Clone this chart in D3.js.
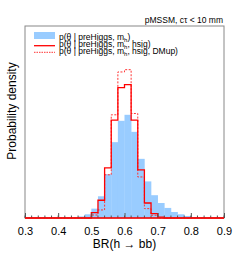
<!DOCTYPE html>
<html>
  <head>
    <meta charset="utf-8">
    <title>BR(h to bb)</title>
    <script src="https://d3js.org/d3.v7.min.js"></script>
    <style>
      body { margin: 0; background: #fff; }
      text { font-family: "Liberation Sans", Arial, sans-serif; fill: #000; }
    </style>
  </head>
  <body>
    <svg id="chart" width="249" height="257"></svg>
    <script>
      // data: bin width 0.02, first bin left edge + densities
      var binWidth = 0.02;
      var blueStart = 0.44;
      var blueDensity = [0.04, 0.13, 0.31, 0.78, 1.81, 3.65, 6.32, 8.10, 8.60, 7.18,
                         4.93, 3.05, 1.90, 1.25, 0.84, 0.50, 0.31, 0.17, 0.08, 0.04];
      var hsigStart = 0.50;
      var hsigDensity = [0.44, 1.48, 4.18, 8.16, 10.86, 11.11, 8.16, 4.01, 1.25, 0.36, 0.08];
      var dmupStart = 0.50;
      var dmupDensity = [0.25, 0.67, 3.60, 8.60, 12.17, 12.36, 8.71, 3.42, 0.78, 0.23, 0];
      var xTicks = [0.3, 0.4, 0.5, 0.6, 0.7, 0.8, 0.9];

      var svg = d3.select("#chart");
      var margin = { top: 26, right: 25, bottom: 39, left: 25 };
      var width = 249, height = 257;

      var x = d3.scaleLinear()
        .domain([0.3, 0.9])
        .range([margin.left, width - margin.right]);
      var y = d3.scaleLinear()
        .domain([0, 16])
        .range([height - margin.bottom, margin.top]);

      function bins(start, vals) {
        return vals.map(function(v, i) {
          return { x0: start + i * binWidth, x1: start + (i + 1) * binWidth, v: v };
        });
      }

      // step outline running along the whole axis
      function stepPath(start, vals) {
        var pts = [[0.3, 0]];
        bins(start, vals).forEach(function(b) {
          pts.push([b.x0, pts[pts.length - 1][1]]);
          pts.push([b.x0, b.v]);
          pts.push([b.x1, b.v]);
        });
        pts.push([pts[pts.length - 1][0], 0]);
        pts.push([0.9, 0]);
        return d3.line()
          .x(function(d) { return x(d[0]); })
          .y(function(d) { return y(d[1]); })(pts);
      }

      // blue filled histogram
      svg.append("g").selectAll("rect")
        .data(bins(blueStart, blueDensity))
        .enter().append("rect")
          .attr("x", function(d) { return x(d.x0); })
          .attr("width", function(d) { return x(d.x1) - x(d.x0) + 0.3; })
          .attr("y", function(d) { return y(d.v); })
          .attr("height", function(d) { return y(0) - y(d.v); })
          .attr("fill", "#99ccff");

      svg.append("path")
        .attr("d", stepPath(dmupStart, dmupDensity))
        .attr("fill", "none")
        .attr("stroke", "#ff3333")
        .attr("stroke-width", 1)
        .attr("stroke-dasharray", "2,1.5");

      svg.append("path")
        .attr("d", stepPath(hsigStart, hsigDensity))
        .attr("fill", "none")
        .attr("stroke", "#ff0000")
        .attr("stroke-width", 1.3);

      // frame
      svg.append("rect")
        .attr("x", margin.left)
        .attr("y", margin.top)
        .attr("width", width - margin.left - margin.right)
        .attr("height", height - margin.top - margin.bottom)
        .attr("fill", "none")
        .attr("stroke", "#888")
        .attr("stroke-width", 1);

      // bottom ticks, drawn inwards
      var xAxis = d3.axisBottom(x)
        .tickValues(xTicks)
        .tickFormat(d3.format(".1f"))
        .tickSizeInner(-5)
        .tickSizeOuter(0)
        .tickPadding(9);
      var xAxisGroup = svg.append("g")
        .attr("transform", "translate(0," + y(0) + ")")
        .call(xAxis);
      xAxisGroup.select(".domain").remove();
      xAxisGroup.selectAll("line").attr("stroke", "#555");
      xAxisGroup.selectAll("text")
        .style("font-family", "Liberation Sans, Arial, sans-serif")
        .style("font-size", "11px");

      var minor = d3.range(0.3, 0.9001, 0.02);
      svg.append("g").selectAll("line")
        .data(minor)
        .enter().append("line")
          .attr("x1", function(d) { return x(d); })
          .attr("x2", function(d) { return x(d); })
          .attr("y1", y(0))
          .attr("y2", y(0) - 2.5)
          .attr("stroke", "#555");

      // red baseline on top
      svg.append("line")
        .attr("x1", x(0.3)).attr("x2", x(0.9))
        .attr("y1", y(0)).attr("y2", y(0))
        .attr("stroke", "#ff0000")
        .attr("stroke-width", 1.5);

      // axis titles
      svg.append("text")
        .attr("x", (x(0.3) + x(0.9)) / 2)
        .attr("y", 248)
        .attr("text-anchor", "middle")
        .style("font-size", "12px")
        .text("BR(h \u2192 bb)");
      svg.append("text")
        .attr("transform", "translate(16,111) rotate(-90)")
        .attr("text-anchor", "middle")
        .style("font-size", "12px")
        .text("Probability density");

      svg.append("text")
        .attr("x", 223)
        .attr("y", 23)
        .attr("text-anchor", "end")
        .style("font-size", "8.5px")
        .text("pMSSM, c\u03c4 < 10 mm");

      // legend
      var legendTails = [")", ", hsig)", ", hsig, DMup)"];
      var legend = svg.append("g");
      legend.append("rect")
        .attr("x", 34).attr("y", 32).attr("width", 21).attr("height", 7)
        .attr("fill", "#99ccff");
      legend.append("line")
        .attr("x1", 34).attr("x2", 55).attr("y1", 45.7).attr("y2", 45.7)
        .attr("stroke", "#ff0000").attr("stroke-width", 1.3);
      legend.append("line")
        .attr("x1", 34).attr("x2", 55).attr("y1", 52.3).attr("y2", 52.3)
        .attr("stroke", "#ff3333").attr("stroke-width", 1)
        .attr("stroke-dasharray", "1.5,1");
      legendTails.forEach(function(s, i) {
        var t = legend.append("text")
          .attr("x", 59)
          .attr("y", 39.5 + i * 7)
          .style("font-size", "8.5px");
        t.append("tspan").text("p(\u03b8 | preHiggs, m");
        t.append("tspan").attr("dy", 2.5).style("font-size", "6px").text("h");
        t.append("tspan").attr("dy", -2.5).text(s);
      });
    </script>
  </body>
</html>
